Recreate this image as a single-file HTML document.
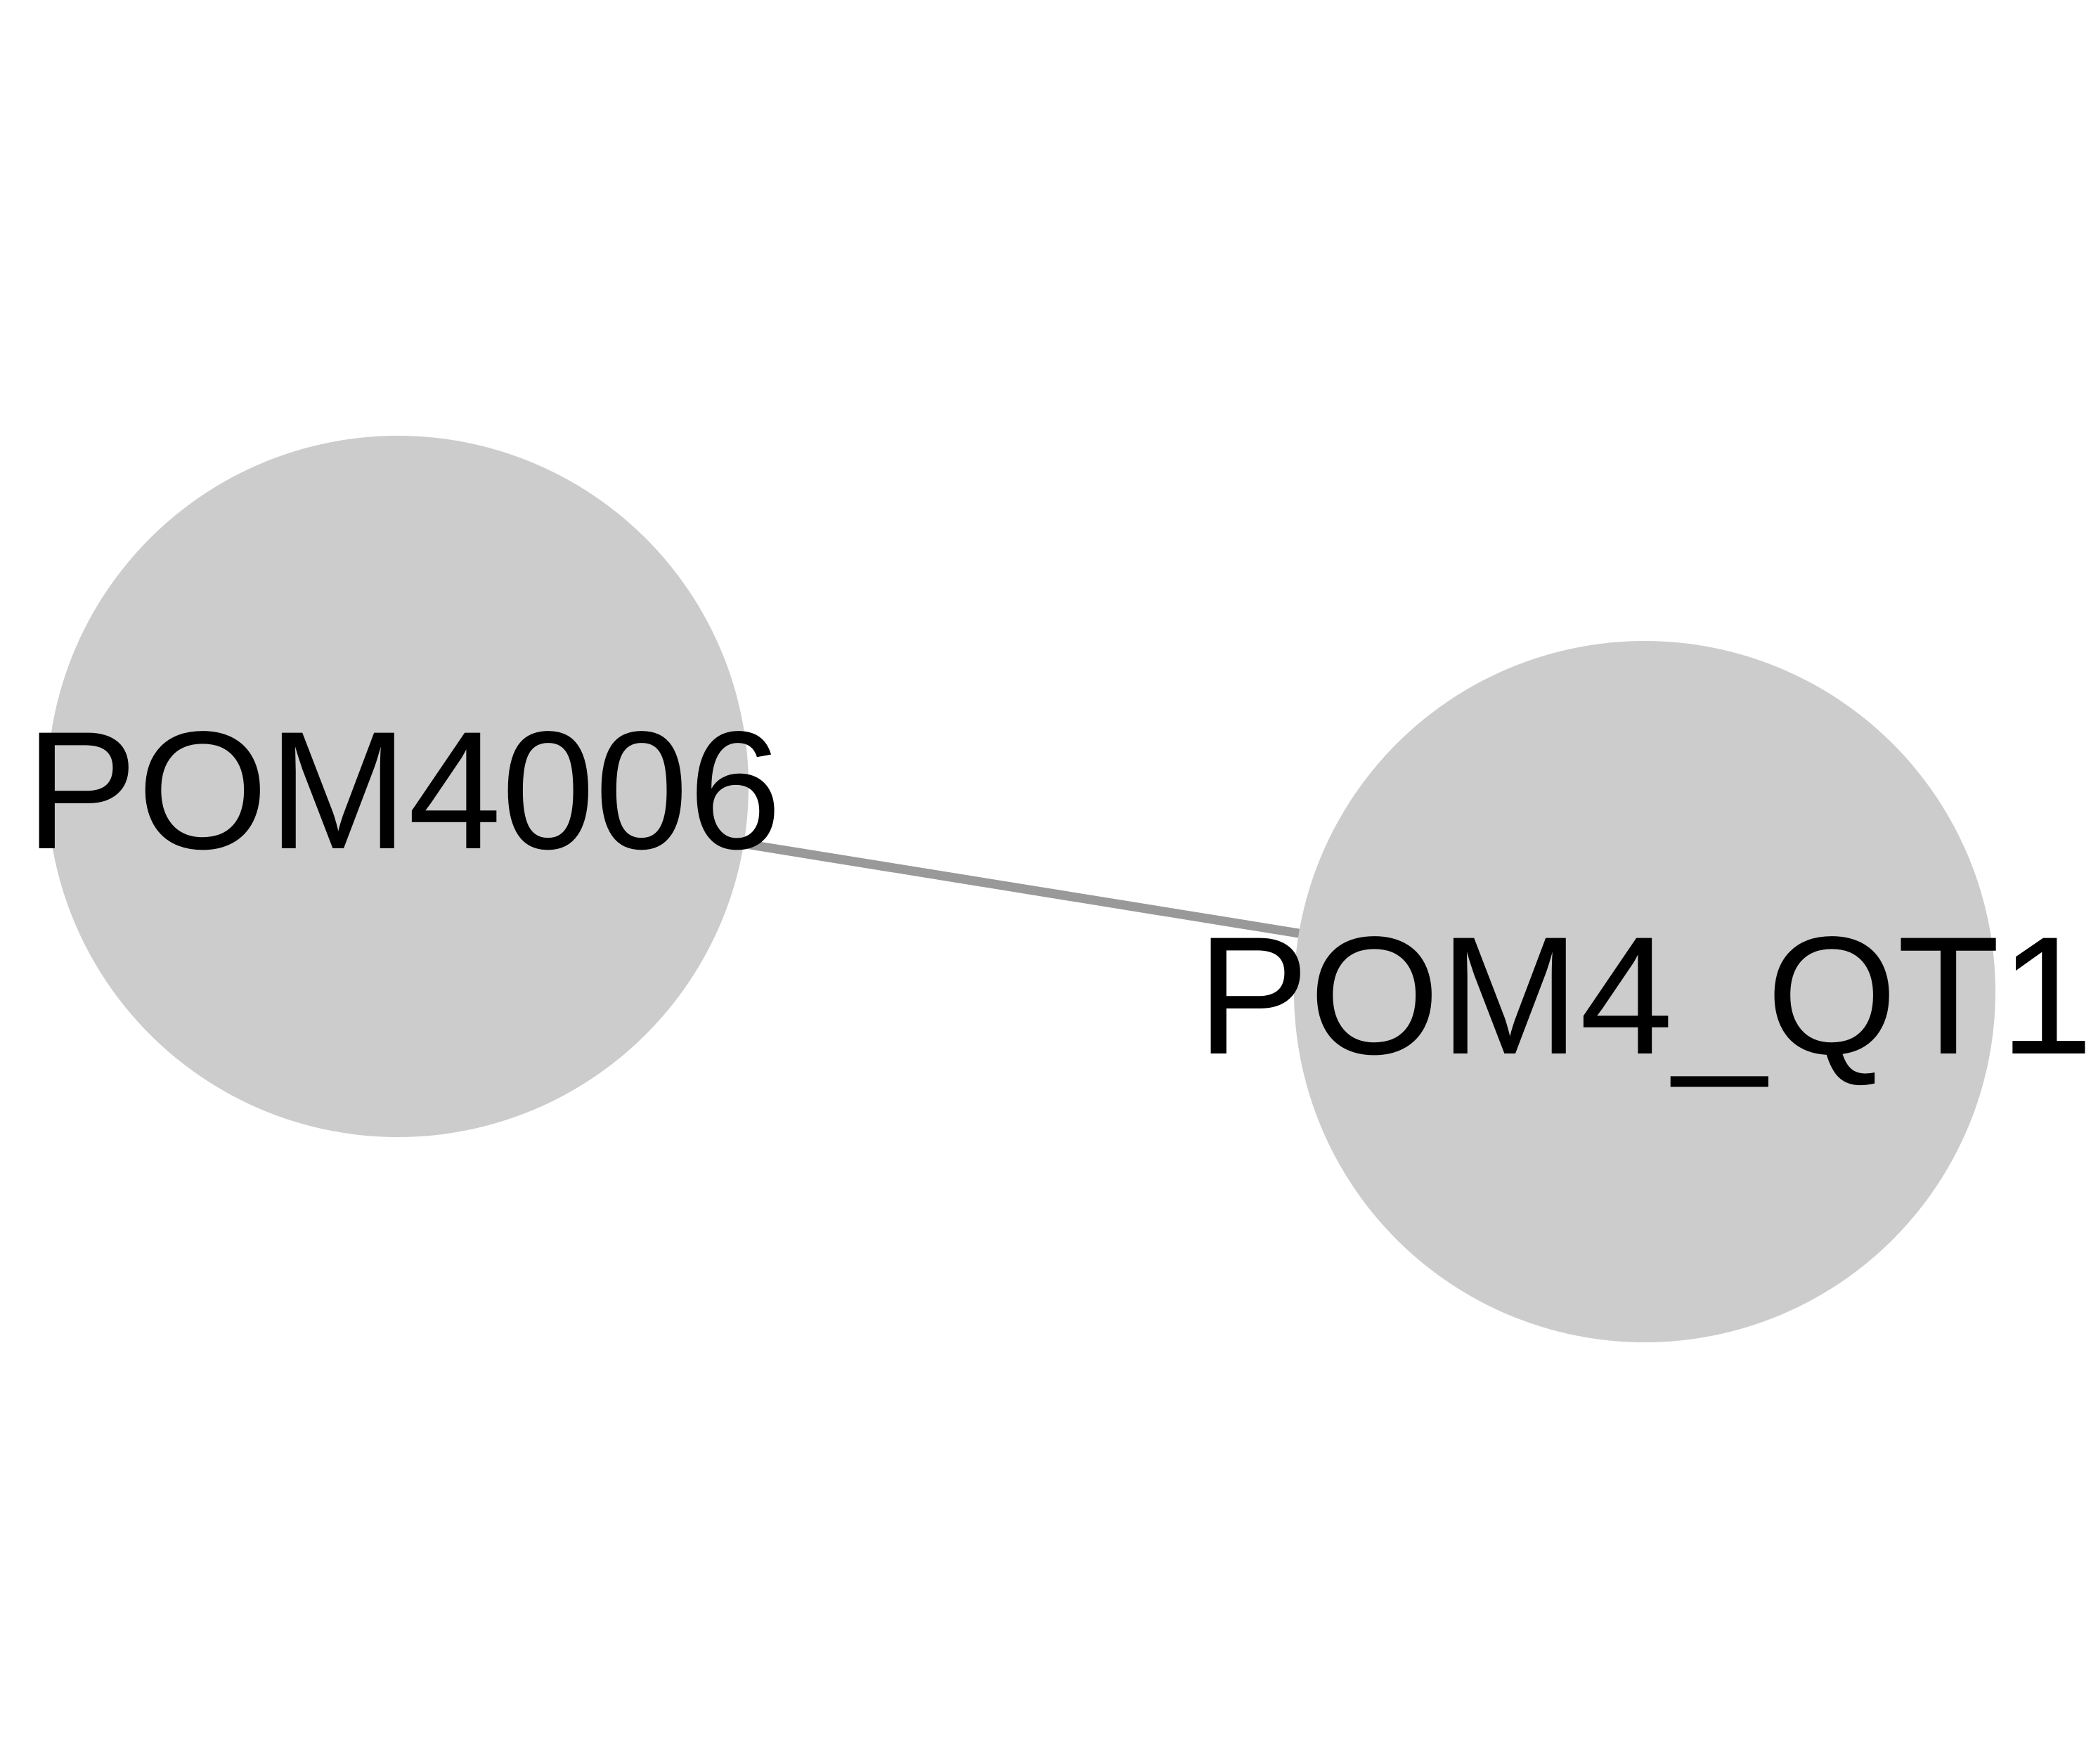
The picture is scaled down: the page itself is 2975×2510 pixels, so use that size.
<!DOCTYPE html>
<html><head><style>html,body{margin:0;padding:0;background:#fff;}</style></head>
<body>
<svg width="2975" height="2505" viewBox="0 0 2975 2505" xmlns="http://www.w3.org/2000/svg">
<rect width="2975" height="2505" fill="#fff"/>
<circle cx="566" cy="1119" r="499" fill="#cccccc"/>
<circle cx="2340" cy="1411" r="499" fill="#cccccc"/>
<line x1="1061" y1="1201" x2="1848" y2="1328" stroke="#999999" stroke-width="13"/>
<text x="36" y="1207" font-family="Liberation Sans, Arial, sans-serif" font-size="239" fill="#000">POM4006</text>
<text x="1703" y="1499" font-family="Liberation Sans, Arial, sans-serif" font-size="239" fill="#000">POM4_QT1</text>
</svg>
</body></html>
